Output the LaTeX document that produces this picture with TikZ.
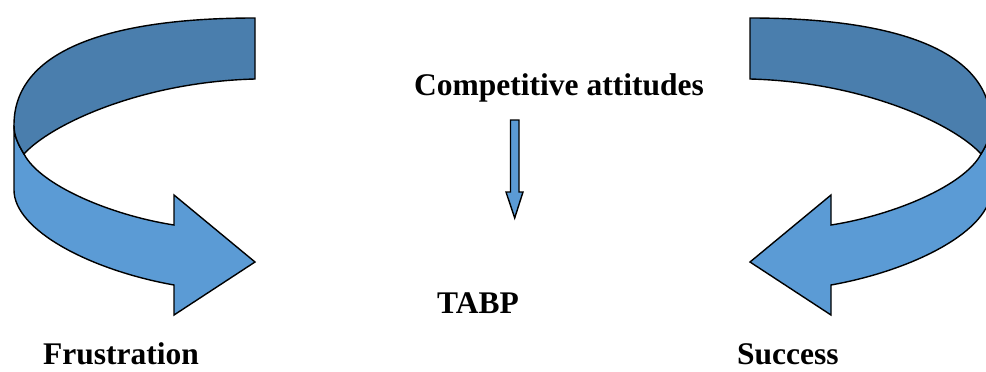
\documentclass[tikz,border=0pt]{standalone}
\usepackage{fontspec}
\setmainfont{Liberation Serif}
\definecolor{darkband}{HTML}{4A7EAD}
\definecolor{lightband}{HTML}{5B9BD5}
\tikzset{
  band/.style={draw=black, line width=1.4pt, line join=miter},
  lbl/.style={font=\fontsize{31.5}{36}\selectfont\bfseries, inner sep=0pt, anchor=base west},
}
\begin{document}
\begin{tikzpicture}[x=1pt, y=-1pt]
\useasboundingbox (0,0) rectangle (986,372);
\begin{scope}
\clip (0,0) rectangle (986,372);
% left curved arrow
\begin{scope}
  \filldraw[band, fill=lightband]
    (14,125) -- (14,190)
    .. controls (14,230) and (90,270) .. (174,285)
    -- (174,315) -- (255,262) -- (174,195) -- (174,225)
    .. controls (110,215) and (40,185) .. (24,154)
    .. controls (18,144) and (14,136) .. cycle;
  \filldraw[band, fill=darkband]
    (14,125)
    .. controls (14,50) and (110,18) .. (255,18)
    -- (255,79)
    .. controls (140,82) and (50,125) .. (24,154)
    .. controls (18,144) and (14,136) .. cycle;
\end{scope}
% right curved arrow (mirror image)
\begin{scope}[xshift=1005pt, xscale=-1]
  \filldraw[band, fill=lightband]
    (14,125) -- (14,190)
    .. controls (14,230) and (90,270) .. (174,285)
    -- (174,315) -- (255,262) -- (174,195) -- (174,225)
    .. controls (110,215) and (40,185) .. (24,154)
    .. controls (18,144) and (14,136) .. cycle;
  \filldraw[band, fill=darkband]
    (14,125)
    .. controls (14,50) and (110,18) .. (255,18)
    -- (255,79)
    .. controls (140,82) and (50,125) .. (24,154)
    .. controls (18,144) and (14,136) .. cycle;
\end{scope}
\end{scope}
% labels
\node[lbl] (comp) at (414,95) {Competitive attitudes};
\node[lbl] (tabp) at (437,313) {TABP};
\node[lbl] (frus) at (43,364) {Frustration};
\node[lbl] (succ) at (737,364) {Success};
% small block arrow
\filldraw[band, fill=lightband]
  (510.5,120) -- (519,120) -- (519,192) -- (523,192) -- (514.7,218)
  -- (506,192) -- (510.5,192) -- cycle;
\end{tikzpicture}
\end{document}
